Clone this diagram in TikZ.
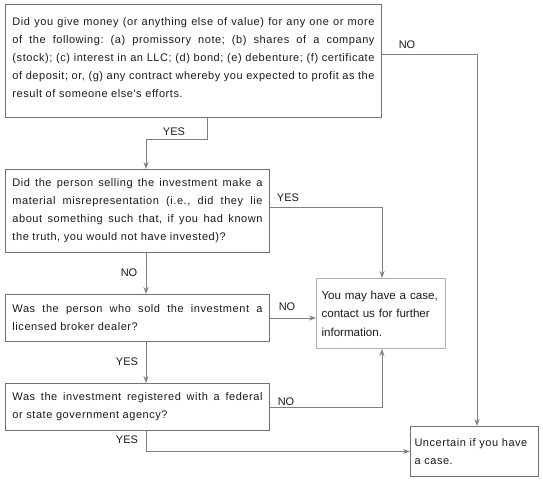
\documentclass[tikz,border=0pt]{standalone}
\usepackage{fontspec}
\setmainfont{Liberation Sans}
\newfontfamily\widesans[LetterSpace=5.0]{Liberation Sans}
\usetikzlibrary{arrows.meta}
\definecolor{boxgray}{HTML}{707070}
\definecolor{softgray}{HTML}{B0B0B0}
\definecolor{arrgray}{HTML}{808080}
\definecolor{inkgray}{HTML}{1A1A1A}
\newcommand{\qtext}{\widesans\fontsize{11}{18}\selectfont\frenchspacing\hyphenpenalty=10000\tolerance=10000}
\newcommand{\atext}{\fontsize{11.6}{18.5}\selectfont}

\begin{document}
\begin{tikzpicture}[x=1pt, y=-1pt,
	qbox/.style={draw=boxgray, line width=1pt, anchor=north west, inner xsep=7pt, inner ysep=0pt, align=justify, text=inkgray, font=\qtext},
	abox/.style={draw=#1, line width=1pt, anchor=north west, inner ysep=0pt, align=left, text=inkgray},
	lbl/.style={font=\fontsize{11}{13}\selectfont, text=inkgray, inner sep=0pt},
	arr/.style={draw=arrgray, line width=1pt, -{Stealth[length=7pt, width=5pt]}}]
	\useasboundingbox (0,0) rectangle (543,481);
	\node[qbox, text width=362pt, minimum height=113pt] (q1) at (5,4) {Did you give money (or anything else of value) for any one or more\linebreak of the following: (a) promissory note; (b) shares of a company\linebreak (stock); (c) interest in an LLC; (d) bond; (e) debenture; (f) certificate\linebreak of deposit; or, (g) any contract whereby you expected to profit as the\linebreak result of someone else's efforts.\par\vspace{6pt}};
	\node[qbox, text width=250pt, minimum height=83pt] (q2) at (5,169) {Did the person selling the investment make a\linebreak material misrepresentation (i.e., did they lie\linebreak about something such that, if you had known\linebreak the truth, you would not have invested)?};
	\node[qbox, text width=250pt, minimum height=47pt] (q3) at (5,294) {Was the person who sold the investment a\linebreak licensed broker dealer?};
	\node[qbox, text width=250pt, minimum height=47pt] (q4) at (5,383) {Was the investment registered with a federal\linebreak or state government agency?};
	\node[abox=softgray, inner xsep=5pt, text width=119pt, minimum height=70pt, font=\atext] (may) at (316,278) {You may have a case,\\contact us for further\\information.};
	\node[abox=boxgray, inner xsep=4pt, text width=120pt, minimum height=50pt, font=\qtext] (unc) at (410,426) {Uncertain if you have\\a case.};
	\coordinate (c1) at (207,140);
	\coordinate (c2) at (146,140);
	\coordinate (c3) at (477,55);
	\coordinate (c4) at (382,207);
	\draw[arr] (q1.south -| c1) -- (c1) -- (c2) -- (q2.north -| c2);
	\draw[arr] (q1.east |- c3) -| (unc.north -| c3);
	\draw[arr] (q2.east |- c4) -| (may.north -| c4);
	\draw[arr] (q2.south -| c2) -- (q3.north -| c2);
	\draw[arr] (q3.east) -- (may.west |- q3.east);
	\draw[arr] (q3.south -| c2) -- (q4.north -| c2);
	\draw[arr] (q4.east) -| (may.south -| c4);
	\draw[arr] (q4.south -| c2) |- (unc.west);
	\node[lbl] (yes1) at (174,132) {YES};
	\node[lbl] (no1) at (407,45) {NO};
	\node[lbl] (yes2) at (288,198) {YES};
	\node[lbl] (no2) at (129,273) {NO};
	\node[lbl] (no3) at (287,307) {NO};
	\node[lbl] (yes3) at (127,362) {YES};
	\node[lbl] (no4) at (286,402) {NO};
	\node[lbl] (yes4) at (127,440) {YES};
\end{tikzpicture}
\end{document}
